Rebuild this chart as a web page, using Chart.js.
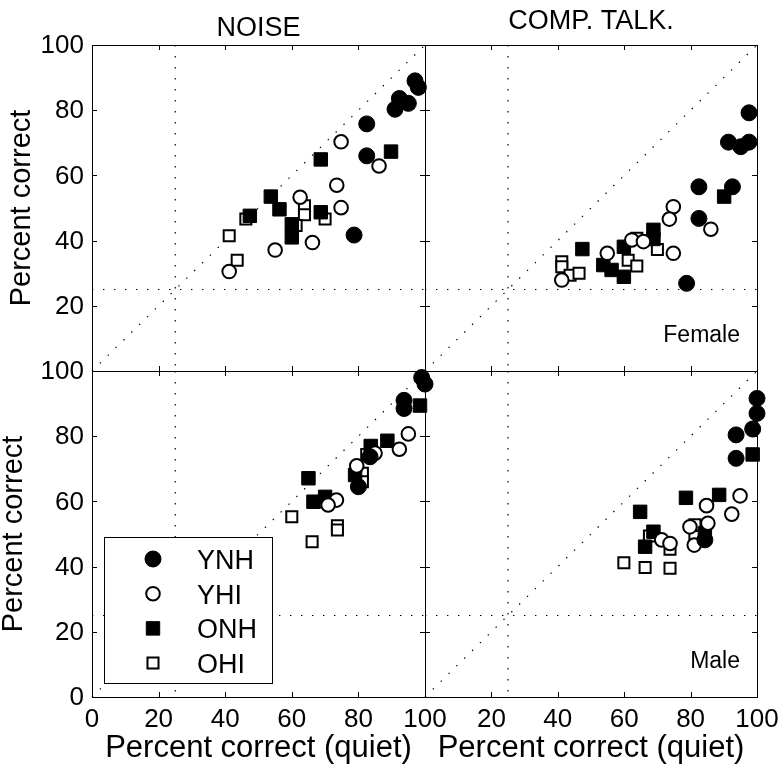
<!DOCTYPE html>
<html>
<head>
<meta charset="utf-8">
<script src="https://cdn.jsdelivr.net/npm/chart.js@4.4.0/dist/chart.umd.min.js"></script>
<style>
  body { margin: 0; background: #fff; }
  #wrap { position: relative; width: 780px; height: 767px; }
  canvas { position: absolute; left: 0; top: 0; }
</style>
</head>
<body>
<div id="wrap">
  <canvas id="tl" width="780" height="767"></canvas>
  <canvas id="tr" width="780" height="767"></canvas>
  <canvas id="bl" width="780" height="767"></canvas>
  <canvas id="br" width="780" height="767"></canvas>
</div>
<script>
//------Data------
const tickValues = [0, 20, 40, 60, 80, 100];
const yTicksTop = [20, 40, 60, 80, 100];
const yTicksBottom = [0, 20, 40, 60, 80, 100];
const xTicksLeft = [0, 20, 40, 60, 80, 100];
const xTicksRight = [20, 40, 60, 80, 100];
const groups = ['YNH', 'YHI', 'ONH', 'OHI'];

// NOISE, female talker  [quiet, masked]
const noiseFemYNH = [[97, 89], [98, 87], [92.3, 83.6], [95, 82.1], [91, 80.3], [82.5, 75.8], [82.5, 66], [78.7, 41.7]];
const noiseFemYHI = [[74.8, 70.3], [86.2, 62.9], [73.5, 57], [74.8, 50.1], [62.5, 53.3], [66.2, 39.4], [55, 37.1], [41.2, 30.5]];
const noiseFemONH = [[68.7, 64.9], [89.8, 67.3], [53.7, 53.5], [56.3, 49.6], [47.4, 47.6], [60, 45], [60, 41], [68.7, 48.7]];
const noiseFemOHI = [[41.2, 41.5], [46.2, 46.6], [43.6, 34], [63.8, 50.7], [63.8, 47.9], [61.3, 44.6], [70, 46.6]];

// COMP. TALK., female talker
const talkFemYNH = [[97.6, 79.2], [91.4, 70.2], [95.1, 68.8], [97.6, 70.2], [82.5, 56.5], [92.6, 56.5], [82.5, 46.8], [78.8, 26.9]];
const talkFemYHI = [[74.8, 50.4], [73.6, 46.6], [86.1, 43.5], [74.8, 36.1], [54.9, 36.1], [41.2, 27.9], [62.3, 40.2], [65.8, 39.7]];
const talkFemONH = [[90.1, 53.5], [47.4, 37.4], [68.8, 43.3], [68.8, 40.5], [59.9, 38.1], [53.7, 32.5], [56.2, 31], [59.9, 28.9]];
const talkFemOHI = [[41.2, 33.5], [41.2, 32], [43.7, 29.4], [46.4, 30], [63.8, 40.7], [61.2, 34], [63.8, 32.2], [70, 37.3]];

// NOISE, male talker
const noiseMaleYNH = [[99, 98], [100, 96], [93.7, 91], [93.7, 88.5], [83.5, 73.7], [80, 64.5]];
const noiseMaleYHI = [[95, 80.7], [92.3, 76], [85, 74.8], [79.5, 70.9], [73.4, 60.4], [70.9, 58.9]];
const noiseMaleONH = [[98.5, 89.4], [88.7, 78.6], [83.7, 77], [65, 67.1], [79, 68.1], [66.5, 59.9], [70, 61.4]];
const noiseMaleOHI = [[82.5, 74.4], [81.2, 68.6], [81.2, 66], [67.5, 59.9], [60, 55.3], [73.7, 52.5], [73.7, 51.2], [66.1, 47.6]];

// COMP. TALK., male talker
const talkMaleYNH = [[100, 91.6], [100, 87], [98.7, 82.2], [93.7, 80.4], [93.7, 73.2], [84.3, 48.2]];
const talkMaleYHI = [[94.9, 61.7], [92.4, 56.1], [84.8, 58.7], [85.2, 53.3], [79.8, 52.2], [81.1, 46.6], [71.3, 48.2], [73.8, 47.1]];
const talkMaleONH = [[98.7, 74.4], [88.6, 62], [78.6, 61.1], [64.8, 56.8], [68.8, 50.7], [66.3, 46.1], [84.3, 50.2]];
const talkMaleOHI = [[81.3, 52.8], [81.3, 49.2], [67.6, 49.4], [73.8, 45.3], [59.9, 41.2], [66.3, 39.7], [73.8, 39.5]];
//--------------

const W = 780, H = 767;
const FONT = '"Liberation Sans", Arial, Helvetica, sans-serif';

const markerStyles = [
  { pointStyle: 'circle', pointRadius: 8, backgroundColor: '#000', borderWidth: 1 },
  { pointStyle: 'circle', pointRadius: 6.8, backgroundColor: '#fff', borderWidth: 2 },
  { pointStyle: 'rect', pointRadius: 9.5, backgroundColor: '#000', borderWidth: 1 },
  { pointStyle: 'rect', pointRadius: 7.8, backgroundColor: '#fff', borderWidth: 2 }
];

function makeSets(series) {
  return series.map((data, i) => Object.assign({
    label: groups[i],
    data: data,
    borderColor: '#000',
    clip: false,
    showLine: false
  }, markerStyles[i], { pointHoverRadius: markerStyles[i].pointRadius }));
}

function makePlugin(cfg) {
  return {
    id: 'panel',
    beforeDatasetsDraw(chart) {
      const { ctx, chartArea: a, scales: { x, y } } = chart;
      ctx.save();
      // reference lines (diagonal, 25% lines)
      ctx.strokeStyle = '#000';
      ctx.lineWidth = 1.2;
      ctx.setLineDash([1.4, 9.6]);
      ctx.beginPath();
      ctx.moveTo(x.getPixelForValue(0), y.getPixelForValue(0));
      ctx.lineTo(x.getPixelForValue(100), y.getPixelForValue(100));
      ctx.moveTo(x.getPixelForValue(25), a.top);
      ctx.lineTo(x.getPixelForValue(25), a.bottom);
      ctx.moveTo(a.left, y.getPixelForValue(25));
      ctx.lineTo(a.right, y.getPixelForValue(25));
      ctx.stroke();
      ctx.setLineDash([]);
      // box + inward ticks
      ctx.lineWidth = 1;
      ctx.strokeRect(a.left + 0.5, a.top + 0.5, a.right - a.left, a.bottom - a.top);
      ctx.beginPath();
      tickValues.forEach(v => {
        const px = Math.round(x.getPixelForValue(v)) + 0.5;
        const py = Math.round(y.getPixelForValue(v)) + 0.5;
        ctx.moveTo(px, a.bottom); ctx.lineTo(px, a.bottom - 5);
        ctx.moveTo(px, a.top); ctx.lineTo(px, a.top + 5);
        ctx.moveTo(a.left, py); ctx.lineTo(a.left + 5, py);
        ctx.moveTo(a.right, py); ctx.lineTo(a.right - 5, py);
      });
      ctx.stroke();
      ctx.restore();
    },
    afterDraw(chart) {
      const { ctx, chartArea: a, scales: { x, y } } = chart;
      const cx = (a.left + a.right) / 2, cy = (a.top + a.bottom) / 2;
      ctx.save();
      ctx.fillStyle = '#000';
      ctx.font = '26px ' + FONT;
      if (cfg.yTicks) {
        ctx.textAlign = 'right';
        ctx.textBaseline = 'middle';
        cfg.yTicks.forEach(v => ctx.fillText(String(v), a.left - 8, y.getPixelForValue(v) + 1));
      }
      if (cfg.xTicks) {
        ctx.textAlign = 'center';
        ctx.textBaseline = 'alphabetic';
        cfg.xTicks.forEach(v => ctx.fillText(String(v), x.getPixelForValue(v), a.bottom + 30));
      }
      if (cfg.title) {
        ctx.font = '27px ' + FONT;
        ctx.textAlign = 'center';
        ctx.fillText(cfg.title, cx, 29);
      }
      if (cfg.xTitle) {
        ctx.font = '31px ' + FONT;
        ctx.textAlign = 'center';
        ctx.fillText(cfg.xTitle, cx, 757);
      }
      if (cfg.yTitle) {
        ctx.font = '29px ' + FONT;
        ctx.save();
        ctx.translate(22, cy);
        ctx.rotate(-Math.PI / 2);
        ctx.textAlign = 'center';
        ctx.fillText(cfg.yTitle, 0, 0);
        ctx.restore();
      }
      if (cfg.note) {
        ctx.font = '23px ' + FONT;
        ctx.textAlign = 'right';
        ctx.fillText(cfg.note, a.right - 17, a.bottom - 29);
      }
      if (cfg.legend) {
        // legend box
        ctx.fillStyle = '#fff';
        ctx.fillRect(104, 537, 168, 146);
        ctx.strokeStyle = '#000';
        ctx.lineWidth = 1;
        ctx.strokeRect(104.5, 537.5, 168, 146);
        chart.data.datasets.forEach((ds, i) => {
          const ly = 559 + i * 34.7;
          ctx.beginPath();
          ctx.fillStyle = ds.backgroundColor;
          ctx.strokeStyle = '#000';
          ctx.lineWidth = ds.borderWidth;
          if (ds.pointStyle === 'circle') {
            ctx.arc(153, ly, ds.pointRadius, 0, Math.PI * 2);
          } else {
            const s = ds.pointRadius * Math.SQRT1_2;
            ctx.rect(153 - s, ly - s, 2 * s, 2 * s);
          }
          ctx.fill();
          ctx.stroke();
          ctx.fillStyle = '#000';
          ctx.font = '27px ' + FONT;
          ctx.textAlign = 'left';
          ctx.textBaseline = 'alphabetic';
          ctx.fillText(ds.label, 197, ly + 10);
        });
      }
      ctx.restore();
    }
  };
}

function panel(id, rect, series, cfg) {
  new Chart(document.getElementById(id), {
    type: 'scatter',
    data: { datasets: makeSets(series) },
    options: {
      responsive: false,
      animation: false,
      events: [],
      layout: { padding: { left: rect[0], top: rect[1], right: W - rect[2], bottom: H - rect[3] } },
      scales: {
        x: { display: false, type: 'linear', min: 0, max: 100 },
        y: { display: false, type: 'linear', min: 0, max: 100 }
      },
      plugins: { legend: { display: false }, tooltip: { enabled: false } }
    },
    plugins: [makePlugin(cfg)]
  });
}

panel('tl', [92, 45, 425, 371], [noiseFemYNH, noiseFemYHI, noiseFemONH, noiseFemOHI],
  { title: 'NOISE', yTicks: yTicksTop, yTitle: 'Percent correct' });
panel('tr', [425, 45, 757, 371], [talkFemYNH, talkFemYHI, talkFemONH, talkFemOHI],
  { title: 'COMP. TALK.', note: 'Female' });
panel('bl', [92, 371, 425, 697], [noiseMaleYNH, noiseMaleYHI, noiseMaleONH, noiseMaleOHI],
  { yTicks: yTicksBottom, xTicks: xTicksLeft, yTitle: 'Percent correct', xTitle: 'Percent correct (quiet)', legend: true });
panel('br', [425, 371, 757, 697], [talkMaleYNH, talkMaleYHI, talkMaleONH, talkMaleOHI],
  { xTicks: xTicksRight, xTitle: 'Percent correct (quiet)', note: 'Male' });
</script>
</body>
</html>
